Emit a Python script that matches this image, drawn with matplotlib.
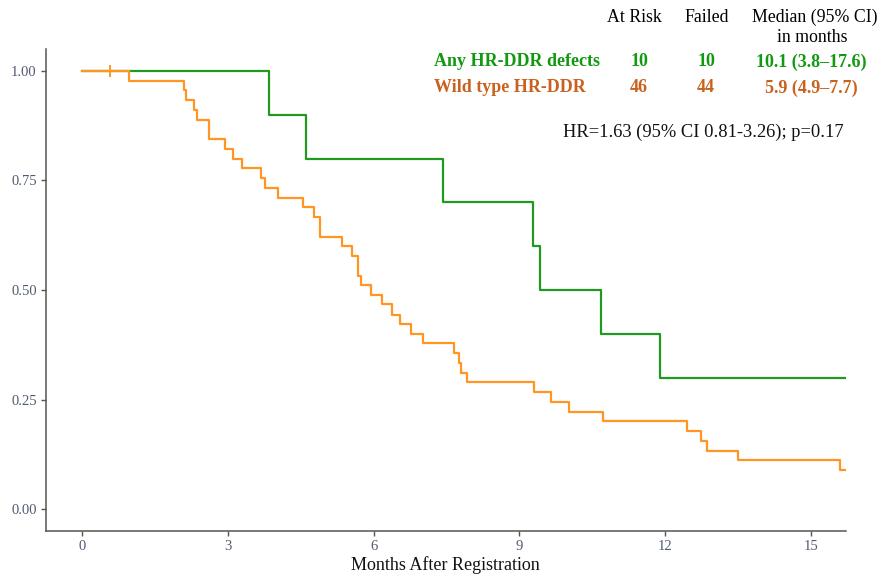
import numpy as np
import matplotlib
matplotlib.use("Agg")
import matplotlib.pyplot as plt

# Kaplan-Meier step curves (months, survival)
hr_times = [0, 3.85, 4.61, 7.43, 9.27, 9.43, 10.67, 11.89, 15.72]
hr_surv = [1.0, 0.9, 0.8, 0.7, 0.6, 0.5, 0.4, 0.3, 0.3]

wt_times = [0, 0.97, 2.10, 2.14, 2.31, 2.36, 2.62, 2.93, 3.10, 3.29, 3.69, 3.76,
            4.03, 4.54, 4.78, 4.89, 5.35, 5.55, 5.68, 5.73, 5.94, 6.17, 6.37,
            6.54, 6.76, 7.01, 7.65, 7.75, 7.79, 7.93, 9.29, 9.65, 10.01, 10.72,
            12.45, 12.74, 12.85, 13.50, 15.60, 15.72]
wt_surv = [1.0, 0.978, 0.956, 0.933, 0.911, 0.889, 0.844, 0.822, 0.800, 0.778,
           0.756, 0.733, 0.711, 0.689, 0.667, 0.622, 0.600, 0.578, 0.533, 0.511,
           0.489, 0.467, 0.444, 0.422, 0.400, 0.378, 0.356, 0.333, 0.311, 0.289,
           0.267, 0.244, 0.222, 0.200, 0.178, 0.156, 0.133, 0.111, 0.089, 0.089]
wt_censor_t = [0.58]
wt_censor_s = [1.0]

groups = ["Any HR-DDR defects", "Wild type HR-DDR"]
at_risk = [10, 46]
failed = [10, 44]
medians = ["10.1 (3.8\u201317.6)", "5.9 (4.9\u20137.7)"]
hr_text = "HR=1.63 (95% CI 0.81-3.26); p=0.17"

line_cols = ["#1f9a1f", "#ff9624"]
text_cols = ["#119911", "#c8621e"]

plt.rcParams['font.family'] = ['Liberation Serif', 'DejaVu Serif']

W, H = 888, 578
fig = plt.figure(figsize=(W / 100, H / 100), dpi=100)
ax = fig.add_axes([45.7 / W, 1 - 531 / H, (846 - 45.7) / W, (531 - 49) / H])

ax.plot(hr_times, hr_surv, drawstyle="steps-post", color=line_cols[0], lw=1.6)
ax.plot(wt_times, wt_surv, drawstyle="steps-post", color=line_cols[1], lw=1.6)
ax.plot(wt_censor_t, wt_censor_s, ls="none", marker="+", ms=8, mew=1.4,
        color=line_cols[1])

ax.set_xlim(-0.75, 15.72)
ax.set_ylim(-0.05, 1.05)
ax.set_xticks([0, 3, 6, 9, 12, 15])
ax.set_yticks([0, 0.25, 0.5, 0.75, 1.0])
ax.set_yticklabels(["0.00", "0.25", "0.50", "0.75", "1.00"])
for s in ["top", "right"]:
    ax.spines[s].set_visible(False)
for s in ["left", "bottom"]:
    ax.spines[s].set_color("#555555")
    ax.spines[s].set_linewidth(1.1)
ax.tick_params(length=3.5, width=1, color="#555555", labelcolor="#505a70",
               labelsize=10.5, pad=3)

fig.text(445 / W, 1 - 565 / H, "Months After Registration", ha="center",
         va="center", fontsize=13, color="#111111")

# table of counts in the top right
hdr_y = 1 - 17 / H
fs = 12.8
fig.text(634 / W, hdr_y, "At Risk", ha="center", va="center", fontsize=fs)
fig.text(707 / W, hdr_y, "Failed", ha="center", va="center", fontsize=fs)
fig.text(815 / W, hdr_y, "Median (95% CI)", ha="center", va="center", fontsize=fs)
fig.text(812 / W, 1 - 38 / H, "in months", ha="center", va="center", fontsize=fs)

row_y = [62, 88]
for i in range(2):
    y = 1 - row_y[i] / H
    fig.text(434 / W, y, groups[i], ha="left", va="center", fontsize=13,
             fontweight="bold", color=text_cols[i])
    fig.text(639 / W, y, str(at_risk[i]), ha="center", va="center", fontsize=13,
             fontweight="bold", color=text_cols[i])
    fig.text(706 / W, y, str(failed[i]), ha="center", va="center", fontsize=13,
             fontweight="bold", color=text_cols[i])
    fig.text(811 / W, y, medians[i], ha="center", va="center", fontsize=13,
             fontweight="bold", color=text_cols[i])

fig.text(703.5 / W, 1 - 132 / H, hr_text, ha="center", va="center", fontsize=13.3,
         color="#111111")

fig.savefig("out.png", dpi=100)
